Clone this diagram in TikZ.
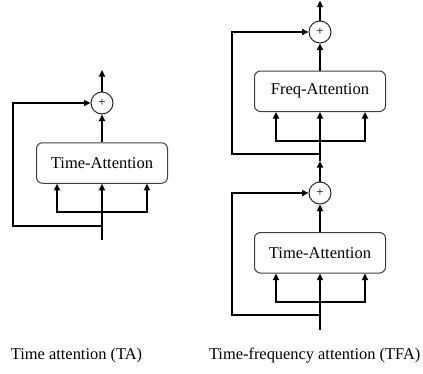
\documentclass[tikz,border=0pt]{standalone}
\usepackage{fontspec}
\setmainfont{Liberation Serif}
\usetikzlibrary{arrows.meta}
\begin{document}
\begin{tikzpicture}[x=1pt,y=-1pt,
  blk/.style={draw=black!75, line width=1pt, rounded corners=6pt, minimum width=131pt, minimum height=40.5pt, inner sep=0pt, font=\fontsize{16.5}{19}\selectfont},
  sumc/.style={draw=black!85, circle, line width=1pt, minimum size=22pt, inner sep=0pt, font=\fontsize{13}{14}\selectfont},
  flow/.style={line width=2pt},
  arr/.style={flow, -{Triangle[length=6.5pt,width=6pt]}},
  captext/.style={font=\fontsize{16.4}{19}\selectfont, inner sep=0pt}]
\useasboundingbox (0,0) rectangle (423,373);

% ---- Time attention (TA) ----
\node[blk] (ta) at (102,163) {Time-Attention};
\node[sumc] (sa) at (102,103) {+};
\coordinate (taout) at (102,70);
\coordinate (tain) at (102,240);
\coordinate (tabar) at (102,212);
\coordinate (taskip) at (102,226);
\draw[arr] (ta.north) -- (sa.south);
\draw[arr] (sa.north) -- (taout);
\draw[arr] (tain) -- (ta.south);
\draw[arr] (tabar) -| ([xshift=-45pt]ta.south);
\draw[arr] (tabar) -| ([xshift=45pt]ta.south);
\draw[arr] (taskip) -- ++(-89,0) |- (sa.west);
\node[captext] (capta) at (76.5,355.5) {Time attention (TA)};

% ---- Time-frequency attention (TFA) ----
% lower block
\node[blk] (tb) at (320,252.75) {Time-Attention};
\node[sumc] (sb) at (320,193) {+};
\coordinate (tbin) at (320,330);
\coordinate (tbbar) at (320,302);
\coordinate (tbskip) at (320,315);
\coordinate (mid) at (320,161);
\draw[arr] (tb.north) -- (sb.south);
\draw[arr] (sb.north) -- (mid);
\draw[arr] (tbin) -- (tb.south);
\draw[arr] (tbbar) -| ([xshift=-44pt]tb.south);
\draw[arr] (tbbar) -| ([xshift=45pt]tb.south);
\draw[arr] (tbskip) -- ++(-88,0) |- (sb.west);
% upper block
\node[blk] (fb) at (320,91.25) {Freq-Attention};
\node[sumc] (sf) at (320,32) {+};
\coordinate (fout) at (320,0.5);
\coordinate (fbar) at (320,141);
\coordinate (fskip) at (320,154);
\draw[arr] (fb.north) -- (sf.south);
\draw[arr] (sf.north) -- (fout);
\draw[arr] (mid) -- (fb.south);
\draw[arr] (fbar) -| ([xshift=-44pt]fb.south);
\draw[arr] (fbar) -| ([xshift=45pt]fb.south);
\draw[arr] (fskip) -- ++(-88,0) |- (sf.west);
\node[captext] (captfa) at (314.7,355.5) {Time-frequency attention (TFA)};
\end{tikzpicture}
\end{document}
